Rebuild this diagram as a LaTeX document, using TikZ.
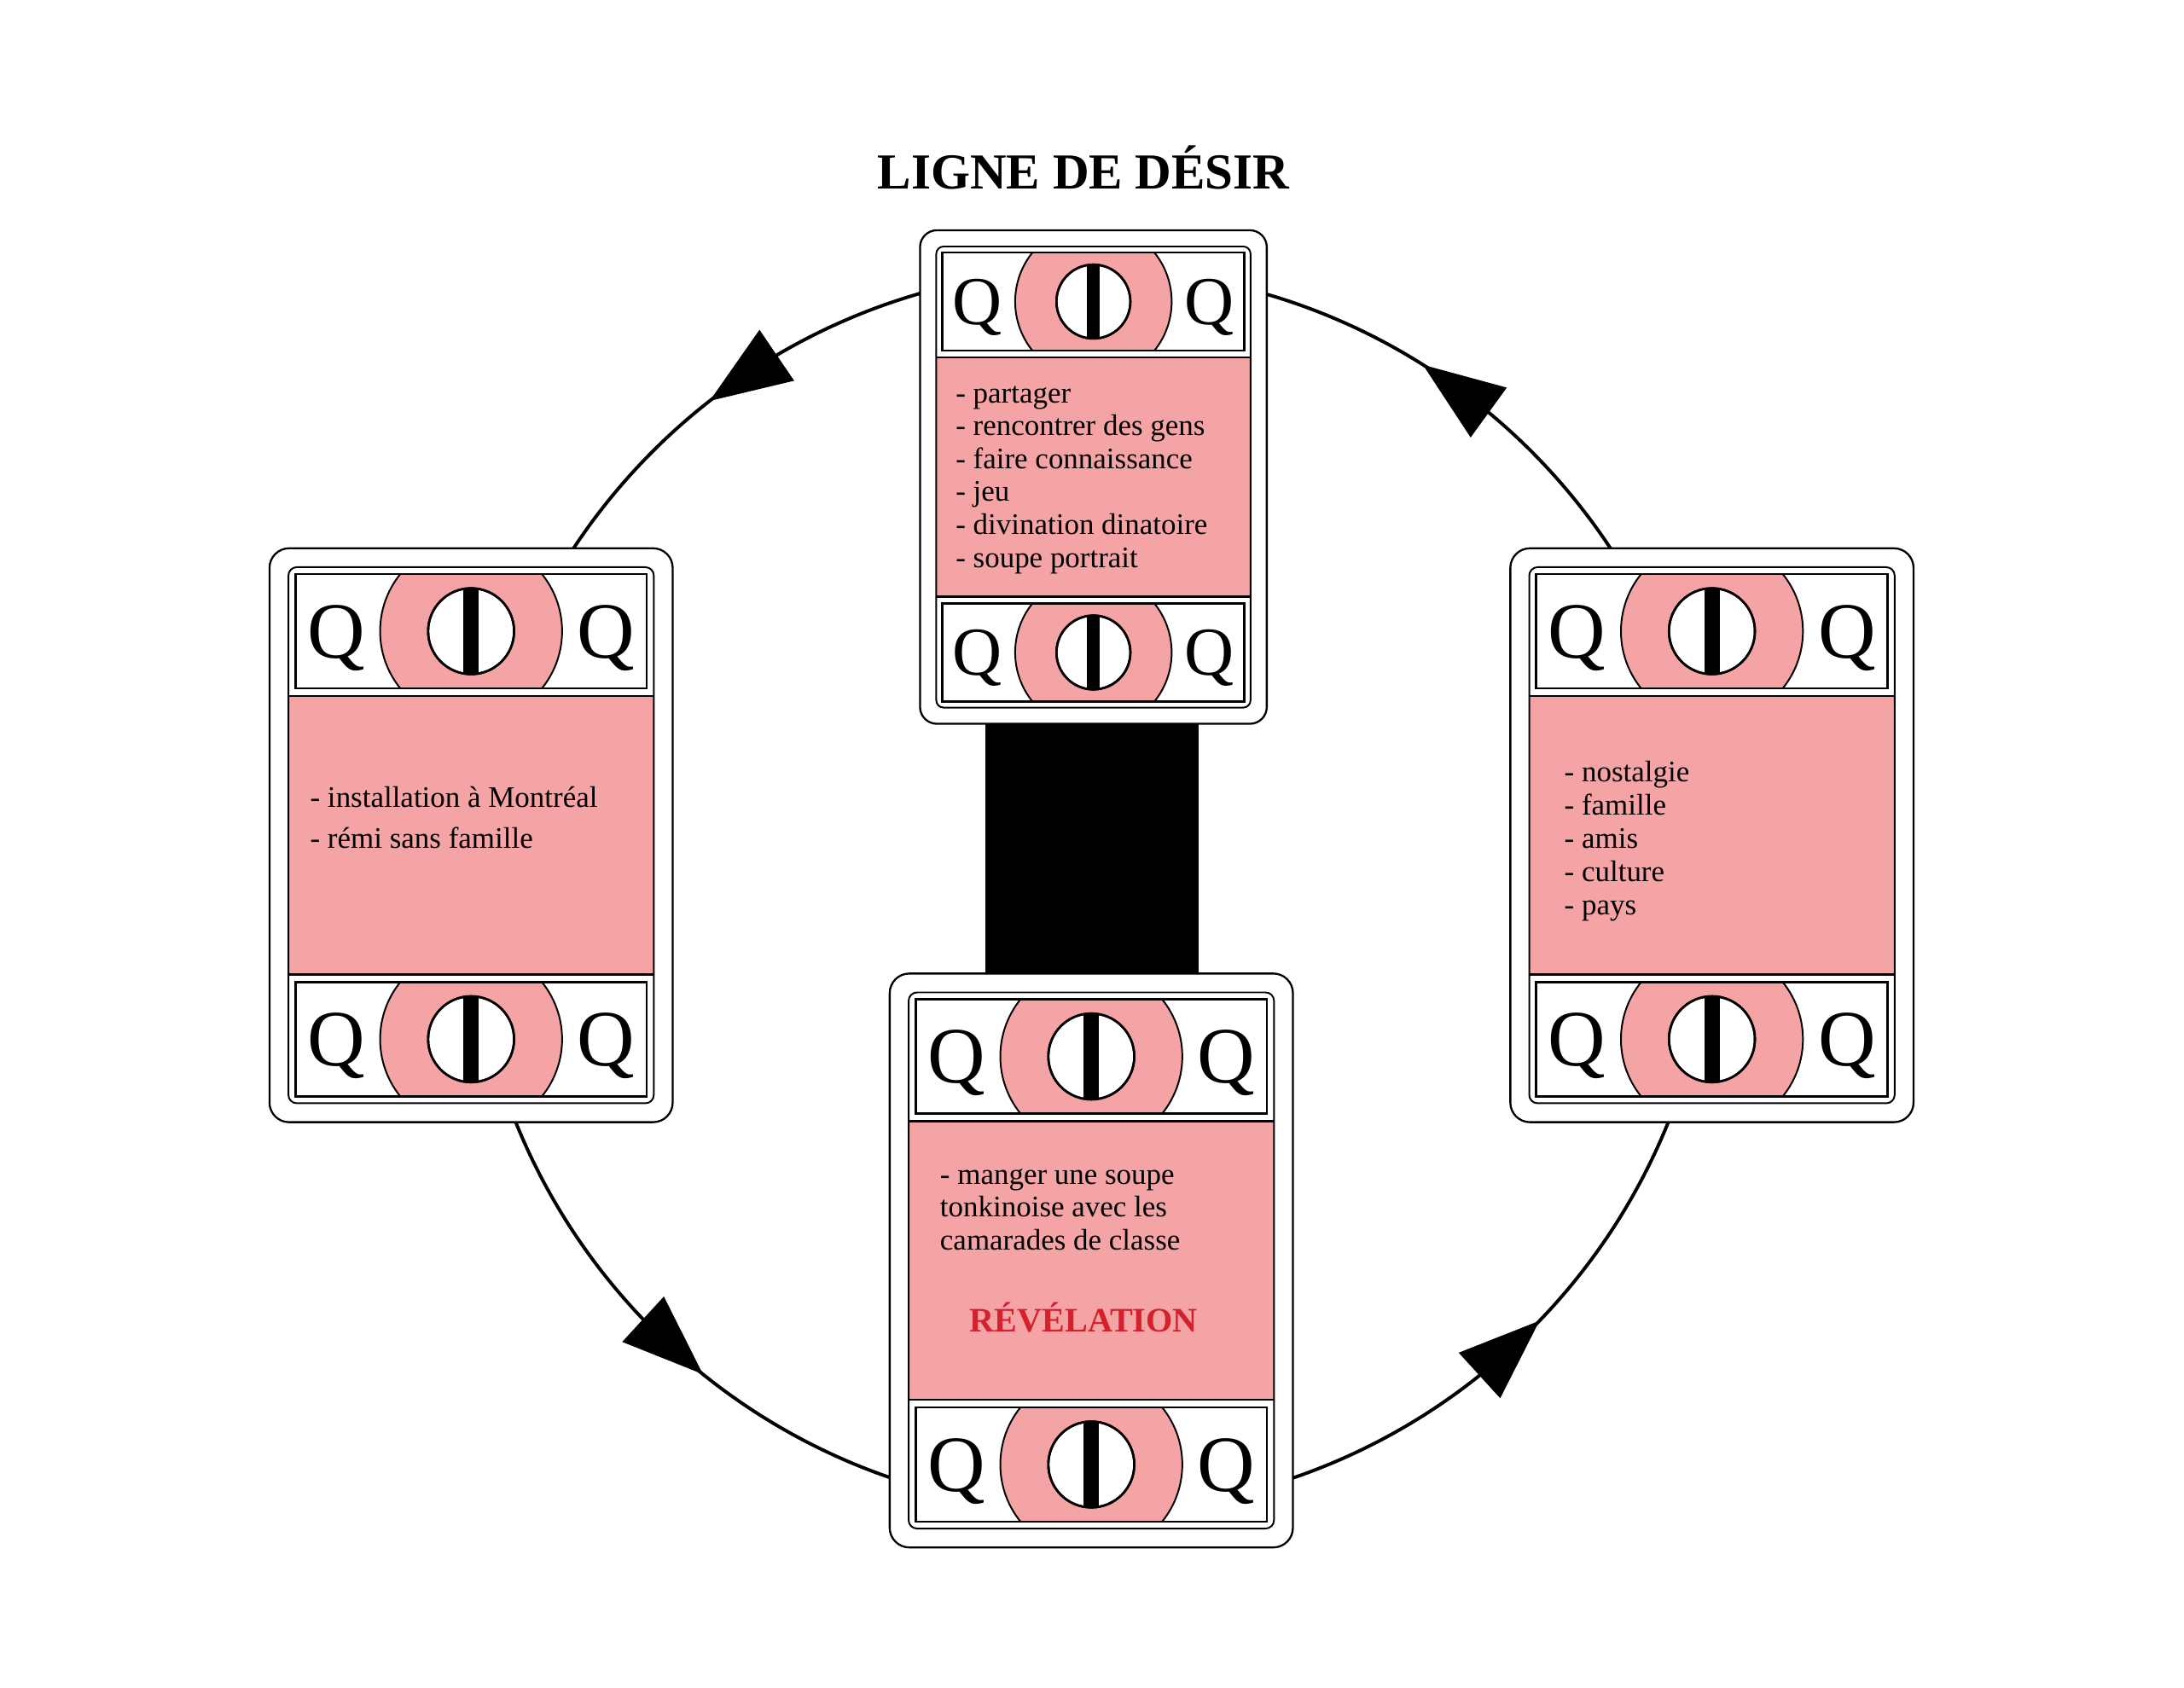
\documentclass[tikz,border=0pt]{standalone}
\usepackage{fontspec}
\setmainfont{Liberation Serif}
\usetikzlibrary{calc}
\definecolor{cardpink}{RGB}{244,164,164}
\definecolor{revred}{RGB}{212,33,45}
\newcommand\txtfont{\fontsize{21.3pt}{23.6pt}\selectfont}
\newcommand\qfont{\fontsize{57pt}{60pt}\selectfont}
\tikzset{
  txt/.style={font=\txtfont, inner sep=0pt, anchor=base west},
  qletter/.style={font=\qfont, inner sep=0pt, anchor=base, transform shape},
  cardframe/.style={draw, line width=1.4pt, fill=white, inner sep=0pt, minimum width=288pt, minimum height=410pt, transform shape},
  innerframe/.style={line width=1.2pt},
  bandline/.style={line width=1.6pt},
  lensline/.style={line width=1.2pt, fill=cardpink},
  ring/.style={line width=2.4pt},
}
\newcommand\cardband[2]{%
  \begin{scope}[shift={(0,#2)}]
    \begin{scope}
      \clip (-125.5,-40.75) rectangle (125.5,40.75);
      \draw[lensline] (0,0) circle (65);
    \end{scope}
    \draw[bandline, fill=white] (0,0) circle (30.7);
    \begin{scope}
      \clip (0,0) circle (30.7);
      \fill (-5.5,-32) rectangle (5.5,32);
    \end{scope}
    \draw[bandline] (0,0) circle (30.7);
    \draw[bandline] (-125.5,-40.75) rectangle (125.5,40.75);
    \node[qletter] (#1-ql) at (-96.5,19) {Q};
    \node[qletter] (#1-qr) at (96.5,19) {Q};
  \end{scope}}
\newcommand\drawcard[4]{%
  \begin{scope}[shift={(#2,#3)}, scale=#4]
    \node[cardframe, rounded corners=#4*14pt] (#1) at (0,0) {};
    \fill[cardpink] (-130.5,-99.5) rectangle (130.5,99.5);
    \draw[innerframe, rounded corners=#4*6pt] (-130.5,-191.5) rectangle (130.5,191.5);
    \draw[bandline] (-130.5,-99.5) -- (130.5,-99.5) (-130.5,99.5) -- (130.5,99.5);
    \cardband{#1-top}{-145.75}
    \cardband{#1-bot}{145.75}
  \end{scope}}
\newcommand\cardlines[5]{%
  \foreach \itm [count=\i] in {#5} {\node[txt] (#1-\i) at (#2, {#3+(\i-1)*#4}) {\itm};}}
\begin{document}
\begin{tikzpicture}[x=1pt, y=-1pt]
\useasboundingbox (0,0) rectangle (1560,1205.4);
\fill[white] (0,0) rectangle (1560,1205.4);
\node[font=\fontsize{36pt}{40pt}\selectfont\bfseries, inner sep=0pt, anchor=base] (title) at (774,135) {LIGNE DE DÉSIR};
\coordinate (ctr) at (780,636);
\draw[ring] (ctr) circle (443.6);
\foreach \a [count=\i] in {128, 231.2, 316.1, 57.8} {
  \coordinate (ah\i) at ($(ctr)+(-\a:443.6)$);
  \coordinate (ab\i) at ($(ctr)+(-\a+7.5:443.6)$);
  \fill ($(ab\i)!22pt!90:(ah\i)$) -- (ah\i) -- ($(ab\i)!22pt!-90:(ah\i)$) -- cycle;
}
\node[fill=black, inner sep=0pt, minimum width=152.4pt, minimum height=190pt] (bridge) at (780,606) {};
\drawcard{topcard}{781}{340.8}{0.86}
\drawcard{leftcard}{336.5}{596.7}{1}
\drawcard{rightcard}{1222.8}{596.7}{1}
\drawcard{botcard}{779.5}{900.5}{1}
\cardlines{toptxt}{682.5}{287.8}{23.5}{- partager, - rencontrer des gens, - faire connaissance, - jeu, - divination dinatoire, - soupe portrait}
\cardlines{lefttxt}{221.4}{577}{28.8}{- installation à Montréal, - rémi sans famille}
\cardlines{righttxt}{1117.2}{558.6}{23.7}{- nostalgie, - famille, - amis, - culture, - pays}
\cardlines{bottxt}{671.3}{845.8}{23.7}{- manger une soupe, tonkinoise avec les, camarades de classe}
\node[font=\fontsize{24.5pt}{28pt}\selectfont\bfseries, text=revred, inner sep=0pt, anchor=base] (reveal) at (774,951.6) {RÉVÉLATION};
\end{tikzpicture}
\end{document}
